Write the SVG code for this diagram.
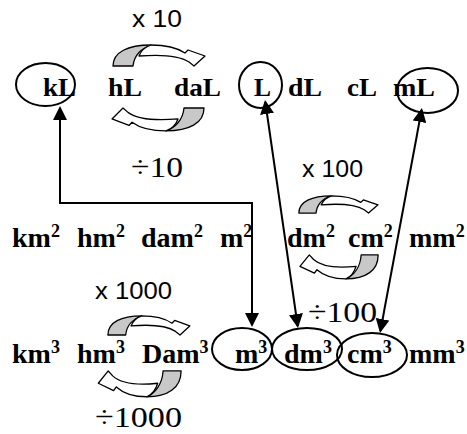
<svg xmlns="http://www.w3.org/2000/svg" xmlns:xlink="http://www.w3.org/1999/xlink" width="467" height="434" viewBox="0 0 467 434">
<defs>
<marker id="ah" viewBox="0 0 14 14" markerWidth="14" markerHeight="14" refX="12" refY="7" orient="auto-start-reverse" markerUnits="userSpaceOnUse"><path d="M0,0 L14,7 L0,14 z" fill="#000"/></marker>
<g id="carrow">
<path class="back" d="M1,22 C1,8 16,1 39,1 C30,4 22,11 21,22 Z"/>
<path class="front" d="M39,1 C55,1 67,5 73,9 L76,6 L93,12 L82,22 L77,18 C68,12 52,10 27,12 C29,7 33,3 39,1 Z"/>
</g>
</defs>
<style>
.u{font-family:"Liberation Serif","Times New Roman",serif;font-weight:bold;fill:#000}
.t{font-size:26px}
.r{font-size:28px}
.sup{font-size:18px}
.sans{font-family:"Liberation Sans",Arial,sans-serif;font-size:23px;fill:#000}
.serif{font-family:"Liberation Serif","Times New Roman",serif;font-size:30px;fill:#000}
.ring{fill:none;stroke:#000;stroke-width:2}
.conn{fill:none;stroke:#000;stroke-width:2;marker-start:url(#ah);marker-end:url(#ah)}
.back{fill:#c8c8c8;stroke:#000;stroke-width:1.3;stroke-linejoin:round;vector-effect:non-scaling-stroke}
.front{fill:#fff;stroke:#000;stroke-width:1.3;stroke-linejoin:round;vector-effect:non-scaling-stroke}
</style>
<rect width="467" height="434" fill="#fff"/>

<g id="convert-arrows">
<use xlink:href="#carrow" href="#carrow" transform="translate(112,44)"/>
<use xlink:href="#carrow" href="#carrow" transform="translate(205,132) rotate(180) scale(1,1.09)"/>
<use xlink:href="#carrow" href="#carrow" transform="translate(298,195) scale(0.86,0.82)"/>
<use xlink:href="#carrow" href="#carrow" transform="translate(379,280) rotate(180) scale(0.85,1.14)"/>
<use xlink:href="#carrow" href="#carrow" transform="translate(107,315) scale(0.89,0.91)"/>
<use xlink:href="#carrow" href="#carrow" transform="translate(182,398) rotate(180) scale(0.9,1.23)"/>
</g>

<g id="factor-labels">
<text class="sans" x="132" y="27" textLength="50" lengthAdjust="spacingAndGlyphs">x 10</text>
<text class="serif" x="131" y="177" textLength="52" lengthAdjust="spacingAndGlyphs">÷10</text>
<text class="sans" x="302" y="177" textLength="61" lengthAdjust="spacingAndGlyphs">x 100</text>
<text class="serif" x="308" y="322" textLength="69" lengthAdjust="spacingAndGlyphs">÷100</text>
<text class="sans" x="95" y="299" textLength="77" lengthAdjust="spacingAndGlyphs">x 1000</text>
<text class="serif" x="95" y="427" textLength="87" lengthAdjust="spacingAndGlyphs">÷1000</text>
</g>

<g id="row-litres">
<g id="kL"><ellipse class="ring" cx="45.5" cy="84.5" rx="29.5" ry="21.5"/><text class="u t" x="43" y="96" textLength="33" lengthAdjust="spacingAndGlyphs">kL</text></g>
<g id="hL"><text class="u t" x="108" y="96" textLength="34" lengthAdjust="spacingAndGlyphs">hL</text></g>
<g id="daL"><text class="u t" x="174" y="96" textLength="47" lengthAdjust="spacingAndGlyphs">daL</text></g>
<g id="L"><ellipse class="ring" cx="260.5" cy="85" rx="21.5" ry="23"/><text class="u t" x="254" y="96" textLength="17" lengthAdjust="spacingAndGlyphs">L</text></g>
<g id="dL"><text class="u t" x="288" y="96" textLength="34" lengthAdjust="spacingAndGlyphs">dL</text></g>
<g id="cL"><text class="u t" x="347" y="96" textLength="30" lengthAdjust="spacingAndGlyphs">cL</text></g>
<g id="mL"><ellipse class="ring" cx="427.5" cy="90.5" rx="30.5" ry="22.5"/><text class="u t" x="393" y="96" textLength="42" lengthAdjust="spacingAndGlyphs">mL</text></g>
</g>

<g id="row-square">
<g id="km2"><text class="u r" x="12" y="247">km<tspan class="sup" dy="-10">2</tspan></text></g>
<g id="hm2"><text class="u r" x="77" y="247">hm<tspan class="sup" dy="-10">2</tspan></text></g>
<g id="dam2"><text class="u r" x="141" y="247">dam<tspan class="sup" dy="-10">2</tspan></text></g>
<g id="m2"><text class="u r" x="220" y="247">m<tspan class="sup" dy="-10">2</tspan></text></g>
<g id="dm2"><text class="u r" x="287" y="247">dm<tspan class="sup" dy="-10">2</tspan></text></g>
<g id="cm2"><text class="u r" x="348" y="247">cm<tspan class="sup" dy="-10">2</tspan></text></g>
<g id="mm2"><text class="u r" x="409" y="247">mm<tspan class="sup" dy="-10">2</tspan></text></g>
</g>

<g id="row-cubic">
<g id="km3"><text class="u r" x="12" y="363">km<tspan class="sup" dy="-10">3</tspan></text></g>
<g id="hm3"><text class="u r" x="77" y="363">hm<tspan class="sup" dy="-10">3</tspan></text></g>
<g id="Dam3"><text class="u r" x="142" y="363">Dam<tspan class="sup" dy="-10">3</tspan></text></g>
<g id="m3"><ellipse class="ring" cx="242" cy="349" rx="30" ry="21"/><text class="u r" x="235" y="363">m<tspan class="sup" dy="-10">3</tspan></text></g>
<g id="dm3"><ellipse class="ring" cx="307" cy="349" rx="35" ry="21"/><text class="u r" x="284" y="363">dm<tspan class="sup" dy="-10">3</tspan></text></g>
<g id="cm3"><ellipse class="ring" cx="372" cy="355" rx="35" ry="22"/><text class="u r" x="347" y="363">cm<tspan class="sup" dy="-10">3</tspan></text></g>
<g id="mm3"><text class="u r" x="409" y="363">mm<tspan class="sup" dy="-10">3</tspan></text></g>
</g>

<g id="connectors">
<polyline class="conn" points="60,108 60,203 252,203 252,325"/>
<line class="conn" x1="265.3" y1="102" x2="297.7" y2="326"/>
<line class="conn" x1="421.6" y1="110" x2="380.4" y2="331"/>
</g>
</svg>
